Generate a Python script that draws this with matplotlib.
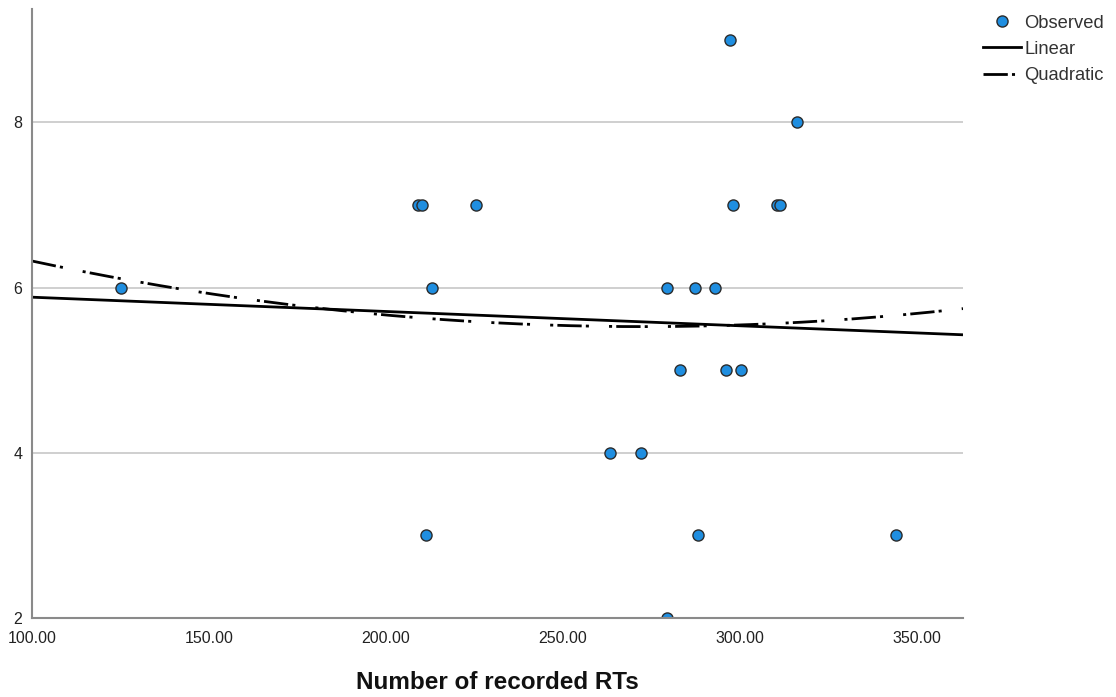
import numpy as np
import matplotlib
matplotlib.use("Agg")
import matplotlib.pyplot as plt
from matplotlib.lines import Line2D

# Observed data: number of recorded RTs vs score
rts = [125.1, 209.0, 210.2, 225.4, 213.0, 211.3, 263.3, 272.0, 279.4, 279.4,
       287.3, 292.9, 283.1, 296.0, 300.3, 288.1, 297.2, 298.0, 310.5, 311.3,
       316.1, 344.1]
score = [6, 7, 7, 7, 6, 3, 4, 4, 2, 6,
         6, 6, 5, 5, 5, 3, 9, 7, 7, 7,
         8, 3]

x_ticks = [100, 150, 200, 250, 300, 350]
x_tick_labels = ["100.00", "150.00", "200.00", "250.00", "300.00", "350.00"]
y_ticks = [2, 4, 6, 8]
x_range = (100, 363)
y_range = (2, 9.37)

plt.rcParams["font.family"] = ["Liberation Sans", "DejaVu Sans"]
plt.rcParams["lines.scale_dashes"] = False

fig = plt.figure(figsize=(11.16, 6.97), dpi=100)
ax = fig.add_axes([0.0287, 0.1133, 0.8342, 0.8737])

x = np.asarray(rts, dtype=float)
y = np.asarray(score, dtype=float)

# Curve estimation: linear and quadratic least-squares fits
lin = np.polyfit(x, y, 1)
quad = np.polyfit(x, y, 2)
xs = np.linspace(x_range[0], x_range[1], 400)

ax.set_xlim(*x_range)
ax.set_ylim(*y_range)

for yt in y_ticks[1:]:
    ax.axhline(yt, color="#cfcfcf", lw=1.4, zorder=0)

ax.plot(xs, np.polyval(lin, xs), color="black", lw=2.0, zorder=2,
        solid_capstyle="butt")
quad_style = (0, (17.5, 3.0, 2.2, 14.5, 2.2, 3.0))
ax.plot(xs, np.polyval(quad, xs), color="black", lw=2.0, zorder=2,
        linestyle=quad_style, dash_capstyle="butt")

ax.plot(x, y, linestyle="none", marker="o", markersize=8,
        markerfacecolor="#1f8ee0", markeredgecolor="#2b2b2b",
        markeredgewidth=1.0, zorder=3, clip_on=True)

for side in ("top", "right"):
    ax.spines[side].set_visible(False)
for side in ("left", "bottom"):
    ax.spines[side].set_color("#8a8a8a")
    ax.spines[side].set_linewidth(1.5)
    ax.spines[side].set_zorder(4)

ax.set_xticks(x_ticks)
ax.set_xticklabels(x_tick_labels)
ax.set_yticks(y_ticks)
ax.set_yticklabels([str(v) for v in y_ticks])
ax.tick_params(axis="both", length=0, labelsize=11.5, colors="#222222")
ax.tick_params(axis="x", pad=9)
ax.tick_params(axis="y", pad=7)

ax.set_xlabel("Number of recorded RTs", fontsize=17.5, fontweight="bold",
              labelpad=18, color="#111111")

handles = [
    Line2D([], [], linestyle="none", marker="o", markersize=8,
           markerfacecolor="#1f8ee0", markeredgecolor="#2b2b2b",
           markeredgewidth=1.0),
    Line2D([], [], color="black", lw=2.0),
    Line2D([], [], color="black", lw=2.0, linestyle=(0, (17.5, 3.0, 2.2, 30))),
]
fig.legend(handles, ["Observed", "Linear", "Quadratic"],
           loc="upper left", bbox_to_anchor=(0.8808, 0.979),
           frameon=False, fontsize=13.2, handlelength=2.1,
           handletextpad=0.15, labelspacing=0.5, borderpad=0,
           borderaxespad=0, labelcolor="#333333")

fig.savefig("out.png", dpi=100)
